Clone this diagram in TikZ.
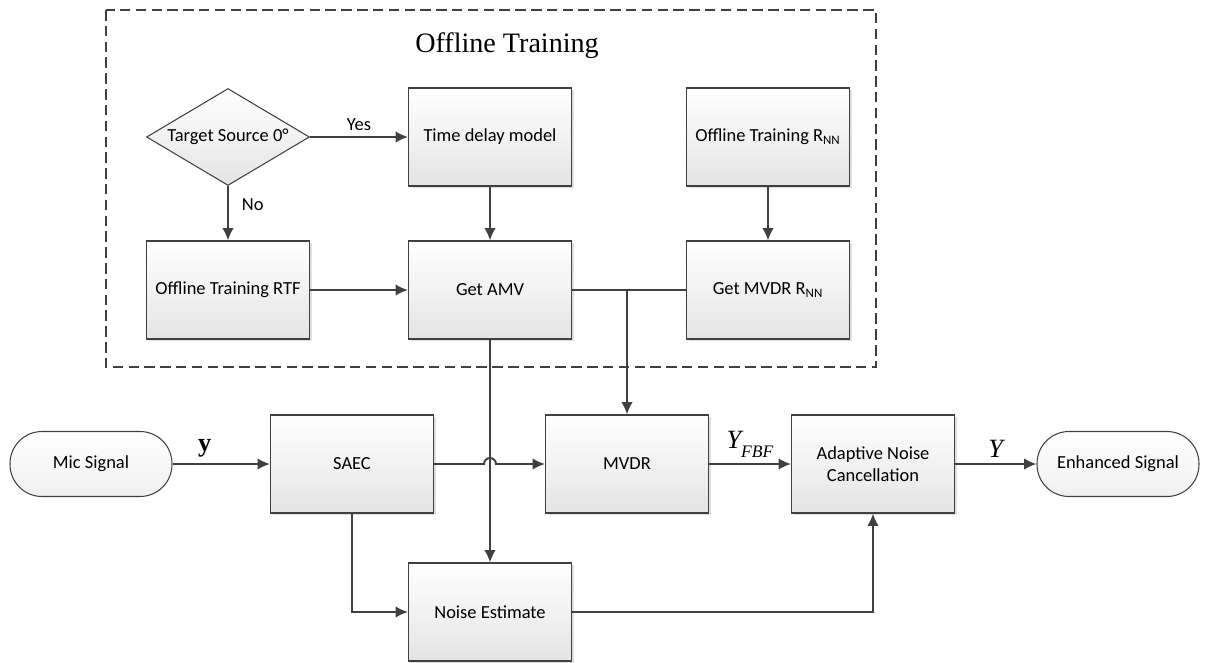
\documentclass[tikz,border=0pt]{standalone}
\usepackage{fontspec}
\setmainfont{Carlito}
\newfontfamily\serifrm{Liberation Serif}
\usetikzlibrary{shapes.geometric,arrows.meta,shadows}
\definecolor{linegray}{HTML}{404040}
\definecolor{boxgray}{HTML}{E4E4E4}
\tikzset{
	block/.style    = {draw=linegray, line width=0.6pt, rectangle, top color=white,
		bottom color=boxgray, minimum width=3.26cm, minimum height=1.96cm,
		align=center, drop shadow={shadow xshift=1.2pt, shadow yshift=-1.2pt,
		fill=black!25, opacity=0.5}},
	decision/.style = {draw=linegray, line width=0.6pt, diamond, top color=white,
		bottom color=boxgray, shape aspect=1.68, minimum width=3.26cm,
		minimum height=1.94cm, inner sep=0pt},
	terminal/.style = {draw=linegray, line width=0.6pt, rectangle,
		rounded corners=0.64cm, top color=white, bottom color=black!6,
		minimum width=3.24cm, minimum height=1.3cm},
	frame/.style    = {draw=linegray, dash pattern=on 6pt off 3pt}
}
\newcommand{\sigsize}{\fontsize{15}{17}\selectfont}

\begin{document}
\begin{tikzpicture}[x=0.02cm, y=-0.02cm, line width=1.1pt, draw=linegray,
	>={Latex[length=7pt,width=6.5pt]}, font=\fontsize{10.5}{12.5}\selectfont]
	\useasboundingbox (0,0) rectangle (1205,663);

	% offline training part
	\draw[frame] (106,10) rectangle (876,367);
	\node at (507,46) (title) {\serifrm\fontsize{16}{19}\selectfont Offline Training};

	\node at (228,137)[decision] (src) {Target Source 0°};
	\node at (490,137)[block] (tdm) {Time delay model};
	\node at (768,137)[block] (rnn) {Offline Training R\textsubscript{NN}};
	\node at (228,290)[block] (rtf) {Offline Training RTF};
	\node at (490,290)[block] (amv) {Get AMV};
	\node at (768,290)[block] (mrnn) {Get MVDR R\textsubscript{NN}};

	% online part
	\node at (91,464)[terminal] (mic) {Mic Signal};
	\node at (352,464)[block] (saec) {SAEC};
	\node at (627,464)[block] (mvdr) {MVDR};
	\node at (873,464)[block] (anc) {Adaptive Noise\\Cancellation};
	\node at (1118,464)[terminal] (out) {Enhanced Signal};
	\node at (490,612)[block] (noise) {Noise Estimate};

	\coordinate (join) at (amv.east -| mvdr.north);
	\coordinate (hop) at (saec.east -| amv.south);

	\draw[->, color=linegray] (src) -- node[above, color=black] {Yes} (tdm);
	\draw[->, color=linegray] (src) -- node[right, xshift=4pt, pos=0.35, color=black] {No} (rtf);
	\draw[->, color=linegray] (tdm) -- (amv);
	\draw[->, color=linegray] (rnn) -- (mrnn);
	\draw[->, color=linegray] (rtf) -- (amv);
	\draw[color=linegray] (amv) -- (mrnn);
	\draw[->, color=linegray] (join) -- (mvdr);
	\draw[->, color=linegray] (amv) -- (noise);

	\draw[->, color=linegray] (mic) -- node[above, pos=0.33, color=black]
		{\serifrm\bfseries\sigsize y} (saec);
	\draw[->, color=linegray] (saec) -- ([xshift=-0.12cm]hop)
		arc[start angle=180, end angle=0, radius=0.12cm] -- (mvdr);
	\draw[->, color=linegray] (mvdr) -- node[above, color=black]
		{\serifrm\itshape\sigsize Y\raisebox{-0.7ex}{\fontsize{10}{10}\selectfont FBF}} (anc);
	\draw[->, color=linegray] (anc) -- node[above, color=black]
		{\serifrm\itshape\sigsize Y} (out);
	\draw[->, color=linegray] (saec) |- (noise);
	\draw[->, color=linegray] (noise) -| (anc);

\end{tikzpicture}
\end{document}
